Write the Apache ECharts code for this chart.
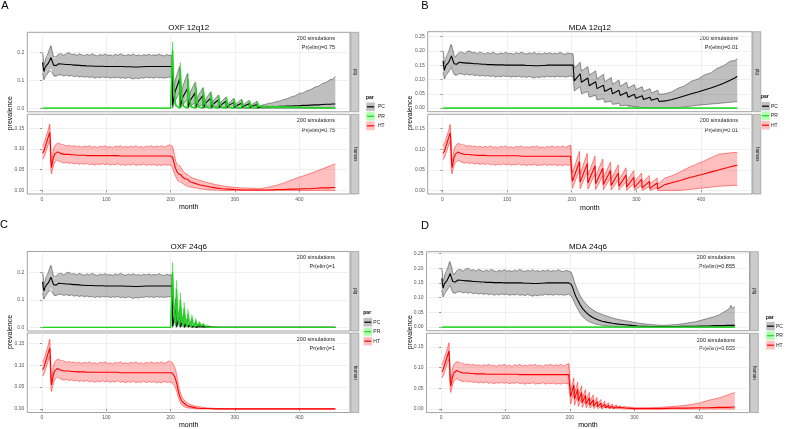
<!DOCTYPE html>
<html>
<head>
<meta charset="utf-8">
<script src="https://cdn.jsdelivr.net/npm/echarts@6.0.0/dist/echarts.min.js"></script>
<style>
  * { margin: 0; padding: 0; }
  body { background: #fff; }
  #main { width: 789px; height: 429px; }
</style>
</head>
<body>
<div id="main"></div>
<script>
// ---------------- data ----------------
var xTicks = [0, 100, 200, 300, 400];
var pigTicksCoarse = [0, 0.1, 0.2];
var pigTicksFine = [0, 0.05, 0.1, 0.15, 0.2, 0.25];
var humanTicks = [0, 0.05, 0.1, 0.15];
var parNames = ['PC', 'PR', 'HT'];
var facetNames = ['pig', 'human'];
var titles = ['OXF 12q12', 'MDA 12q12', 'OXF 24q6', 'MDA 24q6'];
var nSims = [200, 200, 200, 200];
var prElim = ['0.75', '0.01', '1', '0.855'];

// rows: [month, mean, lower, upper]
// months 1-200 (before intervention) look the same in all four panels
var prePig = [
  [1,0.165,0.125,0.2],[2,0.145,0.115,0.185],[3,0.132,0.102,0.155],[4,0.14,0.105,0.16],
  [5,0.148,0.112,0.17],[6,0.15,0.118,0.18],[8,0.155,0.122,0.185],[10,0.162,0.128,0.2],
  [12,0.172,0.135,0.215],[13,0.178,0.14,0.222],[14,0.182,0.142,0.225],[15,0.178,0.138,0.22],
  [16,0.168,0.128,0.205],[18,0.155,0.118,0.185],[20,0.15,0.112,0.178],[22,0.153,0.115,0.185],
  [24,0.158,0.118,0.19],[26,0.16,0.12,0.195],[28,0.16,0.118,0.192],[30,0.159,0.12,0.196],
  [34,0.158,0.116,0.19],[38,0.157,0.119,0.197],[42,0.157,0.115,0.2],[46,0.156,0.118,0.193],
  [50,0.155,0.113,0.195],[54,0.155,0.116,0.19],[58,0.154,0.112,0.196],[62,0.153,0.115,0.192],
  [66,0.153,0.111,0.189],[70,0.152,0.114,0.194],[74,0.152,0.11,0.19],[78,0.152,0.113,0.196],
  [82,0.151,0.108,0.191],[86,0.151,0.112,0.188],[90,0.151,0.109,0.193],[94,0.151,0.113,0.19],
  [98,0.15,0.11,0.195],[102,0.15,0.112,0.19],[106,0.15,0.108,0.192],[110,0.15,0.111,0.188],
  [114,0.15,0.109,0.194],[118,0.15,0.112,0.19],[122,0.15,0.108,0.196],[126,0.15,0.11,0.191],
  [130,0.149,0.107,0.189],[134,0.149,0.111,0.193],[138,0.149,0.108,0.19],[142,0.148,0.105,0.195],
  [146,0.148,0.109,0.189],[150,0.148,0.106,0.192],[154,0.149,0.11,0.188],[158,0.149,0.108,0.193],
  [162,0.15,0.112,0.19],[166,0.15,0.109,0.194],[170,0.15,0.111,0.189],[174,0.15,0.108,0.192],
  [178,0.15,0.112,0.19],[182,0.15,0.109,0.195],[186,0.15,0.111,0.19],[190,0.15,0.108,0.188],
  [194,0.15,0.11,0.193],[198,0.15,0.112,0.19],[200,0.15,0.11,0.19]
];
var preHuman = [
  [1,0.09,0.075,0.108],[2,0.092,0.076,0.11],[3,0.095,0.078,0.112],[4,0.1,0.083,0.118],
  [5,0.105,0.088,0.122],[6,0.11,0.093,0.128],[8,0.12,0.102,0.138],[10,0.13,0.112,0.148],
  [12,0.14,0.12,0.16],[13,0.12,0.09,0.158],[14,0.07,0.045,0.09],[15,0.055,0.04,0.068],
  [16,0.065,0.048,0.08],[18,0.08,0.06,0.1],[20,0.088,0.068,0.108],[22,0.092,0.072,0.112],
  [24,0.093,0.073,0.114],[26,0.092,0.072,0.114],[28,0.09,0.07,0.112],[30,0.088,0.068,0.108],
  [34,0.087,0.066,0.11],[38,0.087,0.068,0.107],[42,0.087,0.065,0.109],[46,0.086,0.067,0.106],
  [50,0.086,0.064,0.108],[54,0.085,0.066,0.105],[58,0.085,0.063,0.107],[62,0.085,0.065,0.104],
  [66,0.085,0.063,0.107],[70,0.084,0.066,0.105],[74,0.084,0.062,0.108],[78,0.084,0.064,0.104],
  [82,0.084,0.061,0.106],[86,0.084,0.064,0.103],[90,0.084,0.062,0.107],[94,0.084,0.065,0.105],
  [98,0.084,0.062,0.108],[102,0.084,0.064,0.104],[106,0.084,0.061,0.106],[110,0.084,0.063,0.103],
  [114,0.084,0.062,0.107],[118,0.084,0.065,0.105],[122,0.083,0.061,0.108],[126,0.083,0.063,0.104],
  [130,0.083,0.06,0.106],[134,0.083,0.063,0.104],[138,0.083,0.061,0.107],[142,0.083,0.064,0.105],
  [146,0.083,0.06,0.108],[150,0.083,0.062,0.104],[154,0.083,0.061,0.106],[158,0.083,0.064,0.103],
  [162,0.083,0.06,0.107],[166,0.083,0.063,0.105],[170,0.083,0.061,0.108],[174,0.083,0.063,0.104],
  [178,0.083,0.06,0.107],[182,0.083,0.062,0.105],[186,0.083,0.06,0.108],[190,0.083,0.063,0.104],
  [194,0.083,0.061,0.107],[198,0.083,0.062,0.11],[200,0.083,0.06,0.107]
];
var prePR = [[1,0,0,0],[200,0,0,0]];

// A: OXF 12q12
var oxf12PC = [
  [202,0.15,0.11,0.19],
  [203,0.01,0,0.03],[207,0.06,0.025,0.1],[214,0.105,0.06,0.15],
  [215,0.005,0,0.02],[219,0.04,0.012,0.08],[226,0.07,0.03,0.124],
  [227,0.004,0,0.015],[231,0.03,0.008,0.06],[238,0.055,0.02,0.092],
  [239,0.003,0,0.012],[243,0.024,0.005,0.045],[250,0.045,0.014,0.073],
  [251,0.002,0,0.01],[255,0.02,0.003,0.035],[262,0.035,0.01,0.058],
  [263,0.002,0,0.008],[267,0.016,0.002,0.028],[274,0.03,0.007,0.047],
  [275,0.001,0,0.007],[279,0.013,0.001,0.024],[286,0.025,0.005,0.04],
  [287,0.001,0,0.006],[291,0.011,0.001,0.02],[298,0.02,0.003,0.035],
  [299,0.001,0,0.005],[303,0.01,0,0.018],[310,0.018,0.002,0.032],
  [311,0.001,0,0.005],[315,0.009,0,0.016],[322,0.016,0.001,0.028],
  [323,0.001,0,0.005],[327,0.008,0,0.014],[334,0.013,0.001,0.025],
  [335,0.001,0,0.006],[340,0.004,0,0.01],
  [346,0.005,0,0.013],[352,0.005,0,0.017],[358,0.006,0,0.019],[364,0.006,0,0.023],
  [370,0.007,0,0.026],[376,0.007,0,0.031],[382,0.008,0,0.035],[388,0.008,0,0.041],
  [394,0.009,0,0.045],[400,0.009,0,0.053],[406,0.01,0,0.055],[412,0.01,0,0.063],
  [418,0.011,0,0.067],[424,0.012,0,0.076],[430,0.012,0,0.079],[436,0.013,0,0.089],
  [442,0.014,0,0.093],[448,0.014,0,0.103],[452,0.015,0,0.104],[456,0.015,0,0.115]
];
var oxf12PR = [
  [202,0,0,0],[203,0.21,0.18,0.238],[205,0.075,0.06,0.09],[208,0.01,0.006,0.015],
  [214,0,0,0],[215,0.14,0.115,0.165],[217,0.05,0.038,0.062],[220,0.007,0.004,0.01],
  [226,0,0,0],[227,0.105,0.085,0.125],[229,0.037,0.028,0.047],[232,0.005,0.003,0.008],
  [238,0,0,0],[239,0.08,0.065,0.095],[241,0.028,0.021,0.036],[244,0.004,0.002,0.006],
  [250,0,0,0],[251,0.062,0.05,0.075],[253,0.022,0.016,0.028],[256,0.003,0.002,0.005],
  [262,0,0,0],[263,0.05,0.04,0.06],[265,0.018,0.013,0.022],[268,0.002,0.001,0.004],
  [274,0,0,0],[275,0.04,0.032,0.048],[277,0.014,0.01,0.018],[280,0.002,0.001,0.003],
  [286,0,0,0],[287,0.034,0.027,0.042],[289,0.012,0.009,0.016],[292,0.002,0.001,0.003],
  [298,0,0,0],[299,0.03,0.023,0.036],[301,0.01,0.008,0.014],[304,0.001,0,0.002],
  [310,0,0,0],[311,0.026,0.02,0.032],[313,0.009,0.007,0.012],[316,0.001,0,0.002],
  [322,0,0,0],[323,0.023,0.018,0.028],[325,0.008,0.006,0.011],[328,0.001,0,0.002],
  [334,0,0,0],[335,0.02,0.015,0.025],[337,0.007,0.005,0.01],[340,0.001,0,0.002],
  [456,0,0,0]
];
var oxf12HT = [
  [202,0.082,0.058,0.108],[204,0.075,0.05,0.1],[206,0.062,0.04,0.085],[208,0.052,0.033,0.07],
  [210,0.045,0.027,0.062],[212,0.04,0.022,0.058],[214,0.042,0.024,0.06],[216,0.038,0.02,0.055],
  [218,0.033,0.017,0.05],[220,0.03,0.015,0.045],[222,0.028,0.013,0.042],[224,0.026,0.011,0.04],
  [226,0.027,0.012,0.041],[228,0.023,0.009,0.036],[230,0.021,0.008,0.033],[234,0.019,0.007,0.03],
  [238,0.017,0.006,0.028],[242,0.015,0.005,0.026],[246,0.013,0.004,0.024],[250,0.012,0.003,0.022],
  [256,0.01,0.002,0.019],[262,0.008,0.001,0.017],[270,0.006,0.001,0.014],[280,0.004,0,0.011],
  [290,0.003,0,0.009],[300,0.002,0,0.007],[312,0.001,0,0.006],[324,0.001,0,0.005],
  [336,0.001,0,0.004],[346,0.001,0,0.006],[356,0.001,0,0.009],[366,0.002,0,0.013],
  [376,0.002,0,0.018],[386,0.003,0,0.024],[396,0.003,0,0.03],[406,0.004,0,0.035],
  [416,0.004,0,0.04],[426,0.005,0,0.046],[436,0.006,0,0.052],[446,0.006,0,0.058],
  [452,0.007,0,0.062],[456,0.007,0,0.064]
];

// B: MDA 12q12
var mda12PC = [
  [202,0.15,0.11,0.19],[204,0.095,0.06,0.14],
  [213,0.12,0.075,0.16],[215,0.09,0.05,0.13],
  [225,0.105,0.058,0.145],[227,0.078,0.038,0.115],
  [237,0.092,0.045,0.13],[239,0.068,0.028,0.102],
  [249,0.08,0.033,0.118],[251,0.058,0.02,0.092],
  [261,0.07,0.024,0.107],[263,0.05,0.013,0.083],
  [273,0.062,0.016,0.098],[275,0.044,0.008,0.076],
  [285,0.055,0.01,0.09],[287,0.038,0.004,0.07],
  [297,0.048,0.005,0.082],[299,0.034,0.002,0.064],
  [309,0.043,0.002,0.075],[311,0.03,0,0.058],
  [321,0.038,0,0.068],[323,0.027,0,0.053],
  [333,0.034,0,0.062],[335,0.023,0,0.048],
  [345,0.025,0,0.05],[355,0.03,0,0.057],[365,0.036,0.002,0.07],[375,0.043,0.004,0.078],
  [385,0.05,0.007,0.094],[395,0.056,0.01,0.101],[405,0.063,0.012,0.116],[415,0.07,0.014,0.123],
  [425,0.078,0.016,0.139],[435,0.087,0.018,0.148],[445,0.097,0.02,0.164],[452,0.105,0.022,0.166],
  [456,0.11,0.022,0.172]
];
var mda12PR = [[456,0,0,0]];
var mda12HT = [
  [201,0.022,0.005,0.042],[212,0.07,0.05,0.095],
  [213,0.02,0.004,0.04],[224,0.065,0.045,0.09],
  [225,0.018,0.003,0.037],[236,0.06,0.04,0.083],
  [237,0.016,0.002,0.034],[248,0.054,0.035,0.076],
  [249,0.014,0.002,0.031],[260,0.048,0.03,0.069],
  [261,0.012,0.001,0.028],[272,0.042,0.025,0.062],
  [273,0.01,0.001,0.025],[284,0.037,0.02,0.055],
  [285,0.008,0,0.022],[296,0.032,0.016,0.048],
  [297,0.007,0,0.02],[308,0.027,0.012,0.042],
  [309,0.006,0,0.018],[320,0.022,0.009,0.036],
  [321,0.005,0,0.016],[332,0.018,0.006,0.03],
  [333,0.004,0,0.015],
  [344,0.014,0,0.03],[356,0.019,0,0.036],[368,0.024,0,0.045],[380,0.03,0.002,0.055],
  [392,0.035,0.004,0.063],[404,0.04,0.006,0.071],[416,0.045,0.008,0.08],[428,0.05,0.01,0.088],
  [440,0.055,0.011,0.09],[450,0.059,0.012,0.092],[456,0.061,0.012,0.092]
];

// C: OXF 24q6
var oxf24PC = [
  [202,0.15,0.11,0.19],
  [203,0.005,0,0.02],[208,0.065,0.03,0.105],
  [209,0.003,0,0.012],[214,0.04,0.015,0.07],
  [215,0.002,0,0.008],[220,0.028,0.008,0.05],
  [221,0.001,0,0.005],[226,0.018,0.004,0.035],
  [227,0.001,0,0.004],[232,0.012,0.002,0.025],
  [233,0,0,0.003],[238,0.008,0.001,0.016],
  [239,0,0,0.002],[244,0.005,0,0.01],
  [245,0,0,0.001],[250,0.003,0,0.007],
  [251,0,0,0.001],[256,0.002,0,0.004],
  [257,0,0,0],[262,0.001,0,0.003],
  [263,0,0,0],[270,0,0,0.001],[280,0,0,0],[456,0,0,0]
];
var oxf24PR = [
  [202,0,0,0],[203,0.2,0.16,0.235],[205,0.06,0.045,0.08],
  [208,0.01,0.005,0.02],[209,0.14,0.11,0.17],[211,0.045,0.033,0.06],
  [214,0.006,0.003,0.012],[215,0.1,0.078,0.125],[217,0.032,0.024,0.043],
  [220,0.004,0.002,0.008],[221,0.07,0.055,0.09],[223,0.023,0.017,0.031],
  [226,0.003,0.001,0.006],[227,0.05,0.038,0.065],[229,0.016,0.012,0.022],
  [232,0.002,0.001,0.004],[233,0.035,0.026,0.046],[235,0.011,0.008,0.016],
  [238,0.001,0,0.003],[239,0.024,0.017,0.032],[241,0.008,0.005,0.011],
  [244,0.001,0,0.002],[245,0.016,0.011,0.022],[247,0.005,0.003,0.008],
  [250,0,0,0.001],[251,0.011,0.007,0.015],[253,0.004,0.002,0.005],
  [256,0,0,0.001],[257,0.007,0.004,0.01],[259,0.002,0.001,0.004],
  [262,0,0,0],[263,0.005,0.003,0.007],[265,0.002,0.001,0.003],
  [268,0,0,0],[269,0.003,0.002,0.005],[271,0.001,0,0.002],
  [274,0,0,0],[275,0.002,0.001,0.003],[277,0.001,0,0.001],
  [280,0,0,0],[456,0,0,0]
];
var oxf24HT = [
  [202,0.083,0.06,0.107],[204,0.08,0.058,0.103],[206,0.075,0.053,0.097],[208,0.066,0.046,0.088],
  [210,0.055,0.038,0.073],[212,0.04,0.026,0.056],[214,0.03,0.018,0.043],[216,0.022,0.012,0.033],
  [218,0.017,0.008,0.027],[220,0.013,0.006,0.022],[224,0.009,0.003,0.016],[228,0.006,0.002,0.012],
  [234,0.004,0.001,0.008],[240,0.002,0,0.006],[248,0.001,0,0.004],[258,0.001,0,0.002],
  [270,0,0,0.001],[285,0,0,0],[456,0,0,0]
];

// D: MDA 24q6
var mda24PC = [
  [202,0.145,0.105,0.186],[204,0.135,0.097,0.175],[206,0.122,0.088,0.16],[208,0.11,0.078,0.147],
  [210,0.1,0.07,0.135],[213,0.088,0.058,0.12],[216,0.075,0.046,0.106],[220,0.062,0.035,0.092],
  [225,0.05,0.025,0.078],[230,0.04,0.018,0.067],[236,0.032,0.013,0.058],[242,0.026,0.009,0.05],
  [250,0.02,0.006,0.043],[258,0.016,0.004,0.037],[266,0.013,0.003,0.031],[275,0.01,0.002,0.026],
  [285,0.008,0.001,0.022],[295,0.006,0,0.018],[305,0.004,0,0.014],[315,0.003,0,0.011],
  [325,0.002,0,0.009],[335,0.002,0,0.007],[345,0.002,0,0.006],[355,0.002,0,0.007],
  [365,0.002,0,0.009],[375,0.003,0,0.011],[385,0.003,0,0.015],[395,0.003,0,0.018],
  [405,0.004,0,0.024],[415,0.004,0,0.03],[425,0.005,0,0.036],[432,0.005,0,0.042],
  [438,0.005,0,0.05],[444,0.006,0,0.058],[448,0.006,0,0.064],[450,0.006,0,0.074],
  [452,0.006,0,0.063],[456,0.006,0,0.07]
];
var mda24PR = [[456,0,0,0]];
var mda24HT = [
  [201,0.03,0.012,0.045],[206,0.058,0.04,0.075],
  [207,0.024,0.009,0.038],[212,0.048,0.032,0.065],
  [213,0.019,0.006,0.032],[218,0.04,0.025,0.056],
  [219,0.015,0.004,0.026],[224,0.033,0.019,0.047],
  [225,0.012,0.003,0.022],[230,0.027,0.015,0.04],
  [231,0.009,0.002,0.018],[236,0.022,0.011,0.034],
  [237,0.007,0.001,0.015],[242,0.018,0.008,0.028],
  [243,0.006,0.001,0.012],[248,0.014,0.006,0.023],
  [249,0.004,0,0.01],[254,0.011,0.004,0.019],
  [255,0.003,0,0.008],[260,0.009,0.003,0.015],
  [261,0.002,0,0.006],[266,0.007,0.002,0.012],
  [267,0.002,0,0.005],[272,0.005,0.001,0.01],
  [273,0.001,0,0.004],[278,0.004,0.001,0.008],
  [279,0.001,0,0.003],[284,0.003,0,0.006],
  [285,0.001,0,0.003],[290,0.002,0,0.005],
  [300,0.001,0,0.003],[320,0.001,0,0.003],[340,0.001,0,0.004],[360,0.002,0,0.006],
  [380,0.002,0,0.009],[400,0.003,0,0.014],[415,0.003,0,0.021],[430,0.004,0,0.026],
  [445,0.004,0,0.034],[456,0.005,0,0.04]
];

var panelData = [
  { PC: prePig.concat(oxf12PC), PR: prePR.concat(oxf12PR), HT: preHuman.concat(oxf12HT) },
  { PC: prePig.concat(mda12PC), PR: prePR.concat(mda12PR), HT: preHuman.concat(mda12HT) },
  { PC: prePig.concat(oxf24PC), PR: prePR.concat(oxf24PR), HT: preHuman.concat(oxf24HT) },
  { PC: prePig.concat(mda24PC), PR: prePR.concat(mda24PR), HT: preHuman.concat(mda24HT) }
];

// ---------------- layout ----------------
var FONT = '"Liberation Sans", Arial, sans-serif';
var xRange = [-22.8, 478.8];
var layout = [
  { left: 27.3, right: 350, pig: [32.3, 79.5], hum: [114.3, 79.7], pigY: [-0.013, 0.273], humY: [-0.0087, 0.1837],
    pigTicks: pigTicksCoarse, pigDigits: 1, pigSplit: 3, letter: [5, 6], titleY: 28, monthY: 207.5, prevX: 10,
    annX: 335, annY: [38.3, 47.7, 120.7, 130], stripX: 350.8, legX: 366, parY: 97.7, keyY: 102.3, labX: 378 },
  { left: 427.7, right: 752, pig: [31.7, 80], hum: [114.3, 79.7], pigY: [-0.0127, 0.267], humY: [-0.0088, 0.1848],
    pigTicks: pigTicksFine, pigDigits: 2, pigSplit: 5, letter: [425, 6.3], titleY: 28, monthY: 208, prevX: 410,
    annX: 738, annY: [38.3, 47.7, 120.7, 130], stripX: 752.8, legX: 761, parY: 96.7, keyY: 101.7, labX: 771 },
  { left: 27.3, right: 350, pig: [251.5, 79.5], hum: [333, 79.5], pigY: [-0.013, 0.275], humY: [-0.0083, 0.1743],
    pigTicks: pigTicksCoarse, pigDigits: 1, pigSplit: 3, letter: [4, 224.5], titleY: 246.7, monthY: 425.5, prevX: 10,
    annX: 335, annY: [257.3, 266.7, 339.3, 348.3], stripX: 350.8, legX: 363.3, parY: 312.7, keyY: 317.7, labX: 373.3 },
  { left: 426.5, right: 749.5, pig: [251.7, 79], hum: [333.3, 79.3], pigY: [-0.0122, 0.256], humY: [-0.0087, 0.183],
    pigTicks: pigTicksFine, pigDigits: 2, pigSplit: 5, letter: [425, 225.5], titleY: 246.7, monthY: 425.5, prevX: 410,
    annX: 735, annY: [257.3, 266.7, 340, 348], stripX: 750.3, legX: 766, parY: 317.3, keyY: 321.7, labX: 776 }
];
var letters = ['A', 'B', 'C', 'D'];

var bandFill = { PC: 'rgba(0,0,0,0.25)', PR: 'rgba(0,255,0,0.3)', HT: 'rgba(255,0,0,0.25)' };
var keyFill = { PC: '#bfbfbf', PR: '#b3ffb3', HT: '#ffbfbf' };
var lineCol = { PC: '#000000', PR: '#1fd41f', HT: '#ff0000' };
var edgeCol = { PC: '#333333', PR: '#1fd41f', HT: '#ff1a1a' };

var grids = [], xAxes = [], yAxes = [], series = [], graphics = [];

function bandSeries(idx, rows, key) {
  return {
    type: 'custom', xAxisIndex: idx, yAxisIndex: idx, silent: true,
    data: rows.map(function (r) { return [r[0], r[2], r[3]]; }),
    encode: { x: 0, y: [1, 2] },
    renderItem: function (params, api) {
      if (params.dataIndex !== 0) return;
      var top = [], bot = [];
      rows.forEach(function (r) {
        top.push(api.coord([r[0], r[3]]));
        bot.push(api.coord([r[0], r[2]]));
      });
      return { type: 'polygon', shape: { points: top.concat(bot.reverse()) }, style: { fill: bandFill[key] } };
    }
  };
}
function lineSeries(idx, rows, col, color, width) {
  return {
    type: 'line', xAxisIndex: idx, yAxisIndex: idx, silent: true,
    symbol: 'none', showSymbol: false,
    data: rows.map(function (r) { return [r[0], r[col]]; }),
    lineStyle: { color: color, width: width }
  };
}
function addPar(idx, rows, key) {
  series.push(bandSeries(idx, rows, key));
  series.push(lineSeries(idx, rows, 2, edgeCol[key], 0.5));
  series.push(lineSeries(idx, rows, 3, edgeCol[key], 0.5));
  series.push(lineSeries(idx, rows, 1, lineCol[key], key === 'PR' ? 1.3 : 1.1));
}
function txt(x, y, s, size, opts) {
  opts = opts || {};
  return {
    type: 'text', x: x, y: y, rotation: opts.rot || 0, silent: true,
    style: { text: s, fontSize: size, fontFamily: FONT, fontWeight: opts.bold ? 'bold' : 'normal',
      fill: opts.color || '#000', align: opts.align || 'center', verticalAlign: 'middle' }
  };
}

layout.forEach(function (L, p) {
  [0, 1].forEach(function (f) {
    var idx = p * 2 + f;
    var box = f === 0 ? L.pig : L.hum;
    var yr = f === 0 ? L.pigY : L.humY;
    var ticks = f === 0 ? L.pigTicks : humanTicks;
    var digits = f === 0 ? L.pigDigits : 2;
    grids.push({ left: L.left, top: box[0], width: L.right - L.left, height: box[1],
      show: true, backgroundColor: '#fff', borderColor: '#8c8c8c', borderWidth: 0.8 });
    xAxes.push({
      gridIndex: idx, type: 'value', min: xRange[0], max: xRange[1], splitNumber: 5,
      axisLine: { show: false },
      axisTick: { show: f === 1, customValues: xTicks, length: 2, lineStyle: { color: '#555', width: 0.6 } },
      axisLabel: { show: f === 1, customValues: xTicks, fontSize: 5, color: '#555', margin: 3, fontFamily: FONT },
      splitLine: { show: true, lineStyle: { color: '#e6e6e6', width: 0.6 } }
    });
    yAxes.push({
      gridIndex: idx, type: 'value', min: yr[0], max: yr[1], splitNumber: f === 0 ? L.pigSplit : 4,
      axisLine: { show: false },
      axisTick: { show: true, customValues: ticks, length: 2, lineStyle: { color: '#555', width: 0.6 } },
      axisLabel: { customValues: ticks, fontSize: 5, color: '#555', margin: 3, fontFamily: FONT,
        formatter: function (v) { return v.toFixed(digits); } },
      splitLine: { show: true, lineStyle: { color: '#e6e6e6', width: 0.6 } }
    });
    // strip
    graphics.push({ type: 'rect', silent: true, shape: { x: L.stripX, y: box[0], width: 8, height: box[1] },
      style: { fill: '#cccccc', stroke: '#8c8c8c', lineWidth: 0.6 } });
    graphics.push(txt(L.stripX + 4, box[0] + box[1] / 2, facetNames[f], 4.5, { rot: -Math.PI / 2, color: '#1a1a1a' }));
    // annotation
    graphics.push(txt(L.annX, L.annY[f * 2], nSims[p] + ' simulations', 5.5, { align: 'right', color: '#1a1a1a' }));
    graphics.push(txt(L.annX, L.annY[f * 2 + 1], 'Pr(elim)=' + prElim[p], 5.5, { align: 'right', color: '#1a1a1a' }));
  });

  var d = panelData[p];
  addPar(p * 2, d.PC, 'PC');
  addPar(p * 2, d.PR, 'PR');
  addPar(p * 2 + 1, d.HT, 'HT');

  var cx = (L.left + L.right) / 2;
  graphics.push(txt(L.letter[0], L.letter[1], letters[p], 11));
  graphics.push(txt(cx, L.titleY, titles[p], 8));
  graphics.push(txt(cx, L.monthY, 'month', 7));
  graphics.push(txt(L.prevX, (L.pig[0] + L.hum[0] + L.hum[1]) / 2, 'prevalence', 7, { rot: Math.PI / 2 }));

  // legend
  graphics.push(txt(L.legX, L.parY, 'par', 5, { align: 'left', bold: true }));
  parNames.forEach(function (k, i) {
    var y0 = L.keyY + i * 9.5;
    graphics.push({ type: 'rect', silent: true, shape: { x: L.legX, y: y0, width: 9, height: 9 },
      style: { fill: keyFill[k], stroke: '#ffffff', lineWidth: 0.4 } });
    graphics.push({ type: 'line', silent: true, shape: { x1: L.legX + 1, y1: y0 + 4.5, x2: L.legX + 8, y2: y0 + 4.5 },
      style: { stroke: lineCol[k], lineWidth: 1.2 } });
    graphics.push(txt(L.labX, y0 + 4.5, k, 5, { align: 'left', color: '#1a1a1a' }));
  });
});

var chart = echarts.init(document.getElementById('main'));
chart.setOption({
  animation: false,
  backgroundColor: '#ffffff',
  grid: grids,
  xAxis: xAxes,
  yAxis: yAxes,
  series: series,
  graphic: graphics
});
</script>
</body>
</html>
